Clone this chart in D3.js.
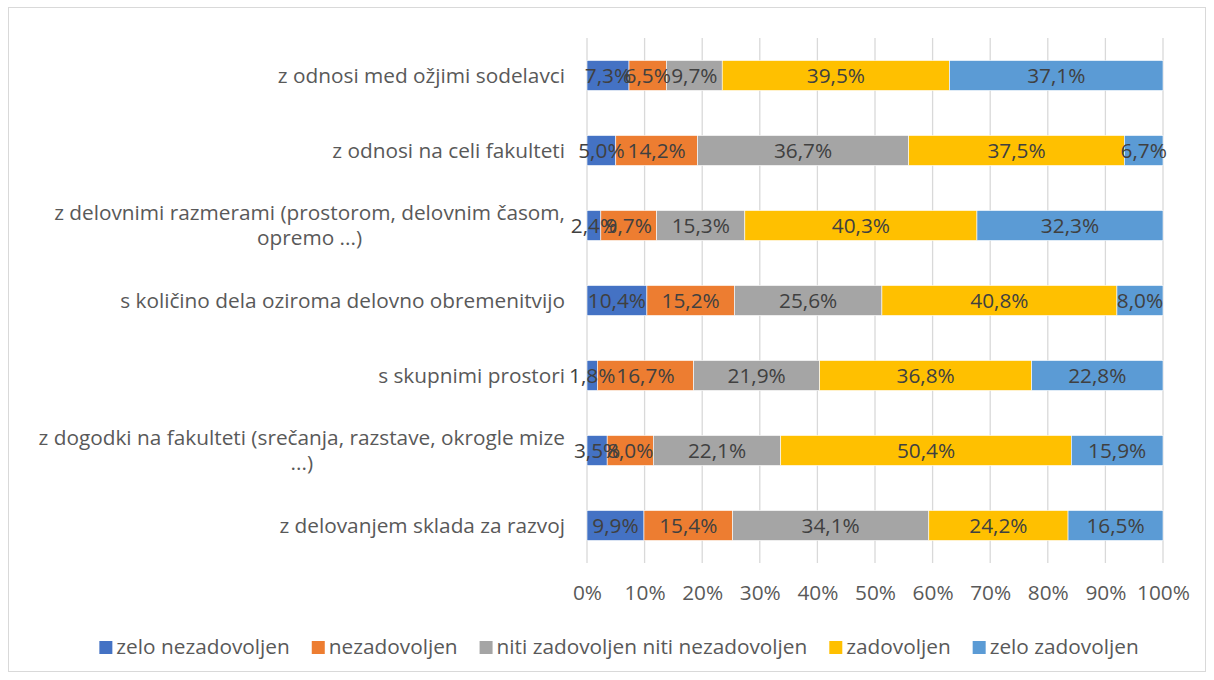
<!DOCTYPE html>
<html>
<head>
<meta charset="utf-8">
<script src="https://cdn.jsdelivr.net/npm/d3@7"></script>
<style>
  body { margin: 0; background: #fff; }
  svg { font-family: "Open Sans", Lato, sans-serif; }
</style>
</head>
<body>
<svg id="chart" width="1214" height="680"></svg>
<script>
// categories, top to bottom (line breaks as in the original)
var categories = [
    "z odnosi med ožjimi sodelavci",
    "z odnosi na celi fakulteti",
    "z delovnimi razmerami (prostorom, delovnim časom,\nopremo ...)",
    "s količino dela oziroma delovno obremenitvijo",
    "s skupnimi prostori",
    "z dogodki na fakulteti (srečanja, razstave, okrogle mize\n...)",
    "z delovanjem sklada za razvoj"
];
var seriesNames = ["zelo nezadovoljen", "nezadovoljen", "niti zadovoljen niti nezadovoljen", "zadovoljen", "zelo zadovoljen"];
var zeloNezadovoljen = [7.3, 5.0, 2.4, 10.4, 1.8, 3.5, 9.9];
var nezadovoljen = [6.5, 14.2, 9.7, 15.2, 16.7, 8.0, 15.4];
var niti = [9.7, 36.7, 15.3, 25.6, 21.9, 22.1, 34.1];
var zadovoljen = [39.5, 37.5, 40.3, 40.8, 36.8, 50.4, 24.2];
var zeloZadovoljen = [37.1, 6.7, 32.3, 8.0, 22.8, 15.9, 16.5];
var tickValues = [0, 10, 20, 30, 40, 50, 60, 70, 80, 90, 100];
var colors = ["#4472C4", "#ED7D31", "#A5A5A5", "#FFC000", "#5B9BD5"];

var series = [zeloNezadovoljen, nezadovoljen, niti, zadovoljen, zeloZadovoljen];
var svg = d3.select("#chart");
var fs = "20.8px";
var fmt = function(v) { return d3.format(".1f")(v).replace(".", ",") + "%"; };

// frame
svg.append("rect")
    .attr("x", 8.5).attr("y", 7.5).attr("width", 1197).attr("height", 664)
    .attr("fill", "#fff").attr("stroke", "#D9D9D9");

var margin = {top: 38, left: 587, right: 51, bottom: 117};
var width = 1214 - margin.left - margin.right,
    height = 680 - margin.top - margin.bottom;
var g = svg.append("g").attr("transform", "translate(" + margin.left + "," + margin.top + ")");

var x = d3.scaleLinear().domain([0, 100]).range([0, width]);
var y = d3.scaleBand().domain(categories).range([0, height]).paddingInner(0.6).paddingOuter(0.3);

// gridlines
g.selectAll(".grid").data(tickValues).enter().append("line")
    .attr("x1", function(d) { return x(d); }).attr("x2", function(d) { return x(d); })
    .attr("y1", 0).attr("y2", height)
    .attr("stroke", "#D9D9D9").attr("stroke-width", 1.3);

// stacked segments, normalised to each row's total
var rows = categories.map(function(c, i) {
    var total = d3.sum(series, function(s) { return s[i]; });
    var acc = 0;
    return series.map(function(s, k) {
        var seg = {cat: c, k: k, v: s[i], x0: acc / total * 100};
        acc += s[i];
        seg.x1 = acc / total * 100;
        return seg;
    });
});
var segs = d3.merge(rows);

g.selectAll(".seg").data(segs).enter().append("rect")
    .attr("x", function(d) { return x(d.x0); })
    .attr("width", function(d) { return x(d.x1) - x(d.x0); })
    .attr("y", function(d) { return y(d.cat); })
    .attr("height", y.bandwidth())
    .attr("fill", function(d) { return colors[d.k]; })
    .attr("stroke", "#fff").attr("stroke-width", 0.6);

g.selectAll(".lbl").data(segs).enter().append("text")
    .attr("x", function(d) { return x((d.x0 + d.x1) / 2); })
    .attr("y", function(d) { return y(d.cat) + y.bandwidth() / 2; })
    .attr("dy", "0.35em")
    .attr("text-anchor", "middle")
    .attr("fill", "#404040").style("font-size", fs)
    .text(function(d) { return fmt(d.v); });

// category labels
var catG = g.selectAll(".cat").data(categories).enter().append("text")
    .attr("fill", "#595959").style("font-size", fs)
    .attr("text-anchor", "end");
catG.each(function(c) {
    var t = d3.select(this);
    var lines = c.split("\n");
    var cy = y(c) + y.bandwidth() / 2;
    var lh = 25;
    var top = cy - (lines.length - 1) * lh / 2;
    var first = t.append("tspan").attr("x", -22).attr("y", top).attr("dy", "0.35em").text(lines[0]);
    if (lines.length > 1) {
        var w = first.node().getComputedTextLength();
        lines.slice(1).forEach(function(l, j) {
            t.append("tspan").attr("x", -22 - w / 2).attr("y", top + (j + 1) * lh)
                .attr("dy", "0.35em").attr("text-anchor", "middle").text(l);
        });
    }
});

// x axis
var xAxis = g.append("g").attr("transform", "translate(0," + height + ")")
    .call(d3.axisBottom(x).tickValues(tickValues).tickSize(0).tickPadding(22)
        .tickFormat(function(d) { return d + "%"; }));
xAxis.select(".domain").remove();
xAxis.selectAll("text").attr("fill", "#595959").style("font-size", fs)
    .style("font-family", "'Open Sans', Lato, sans-serif");

// legend
var legend = svg.append("g");
var lx = 0;
seriesNames.forEach(function(name, k) {
    var item = legend.append("g").attr("transform", "translate(" + lx + ",0)");
    item.append("rect").attr("x", 0).attr("y", -6).attr("width", 13).attr("height", 13).attr("fill", colors[k]);
    var t = item.append("text").attr("x", 17).attr("dy", "0.35em")
        .attr("fill", "#595959").style("font-size", fs).text(name);
    lx += 17 + t.node().getComputedTextLength() + 22;
});
lx -= 22;
legend.attr("transform", "translate(" + (619 - lx / 2) + ",647)");
</script>
</body>
</html>
